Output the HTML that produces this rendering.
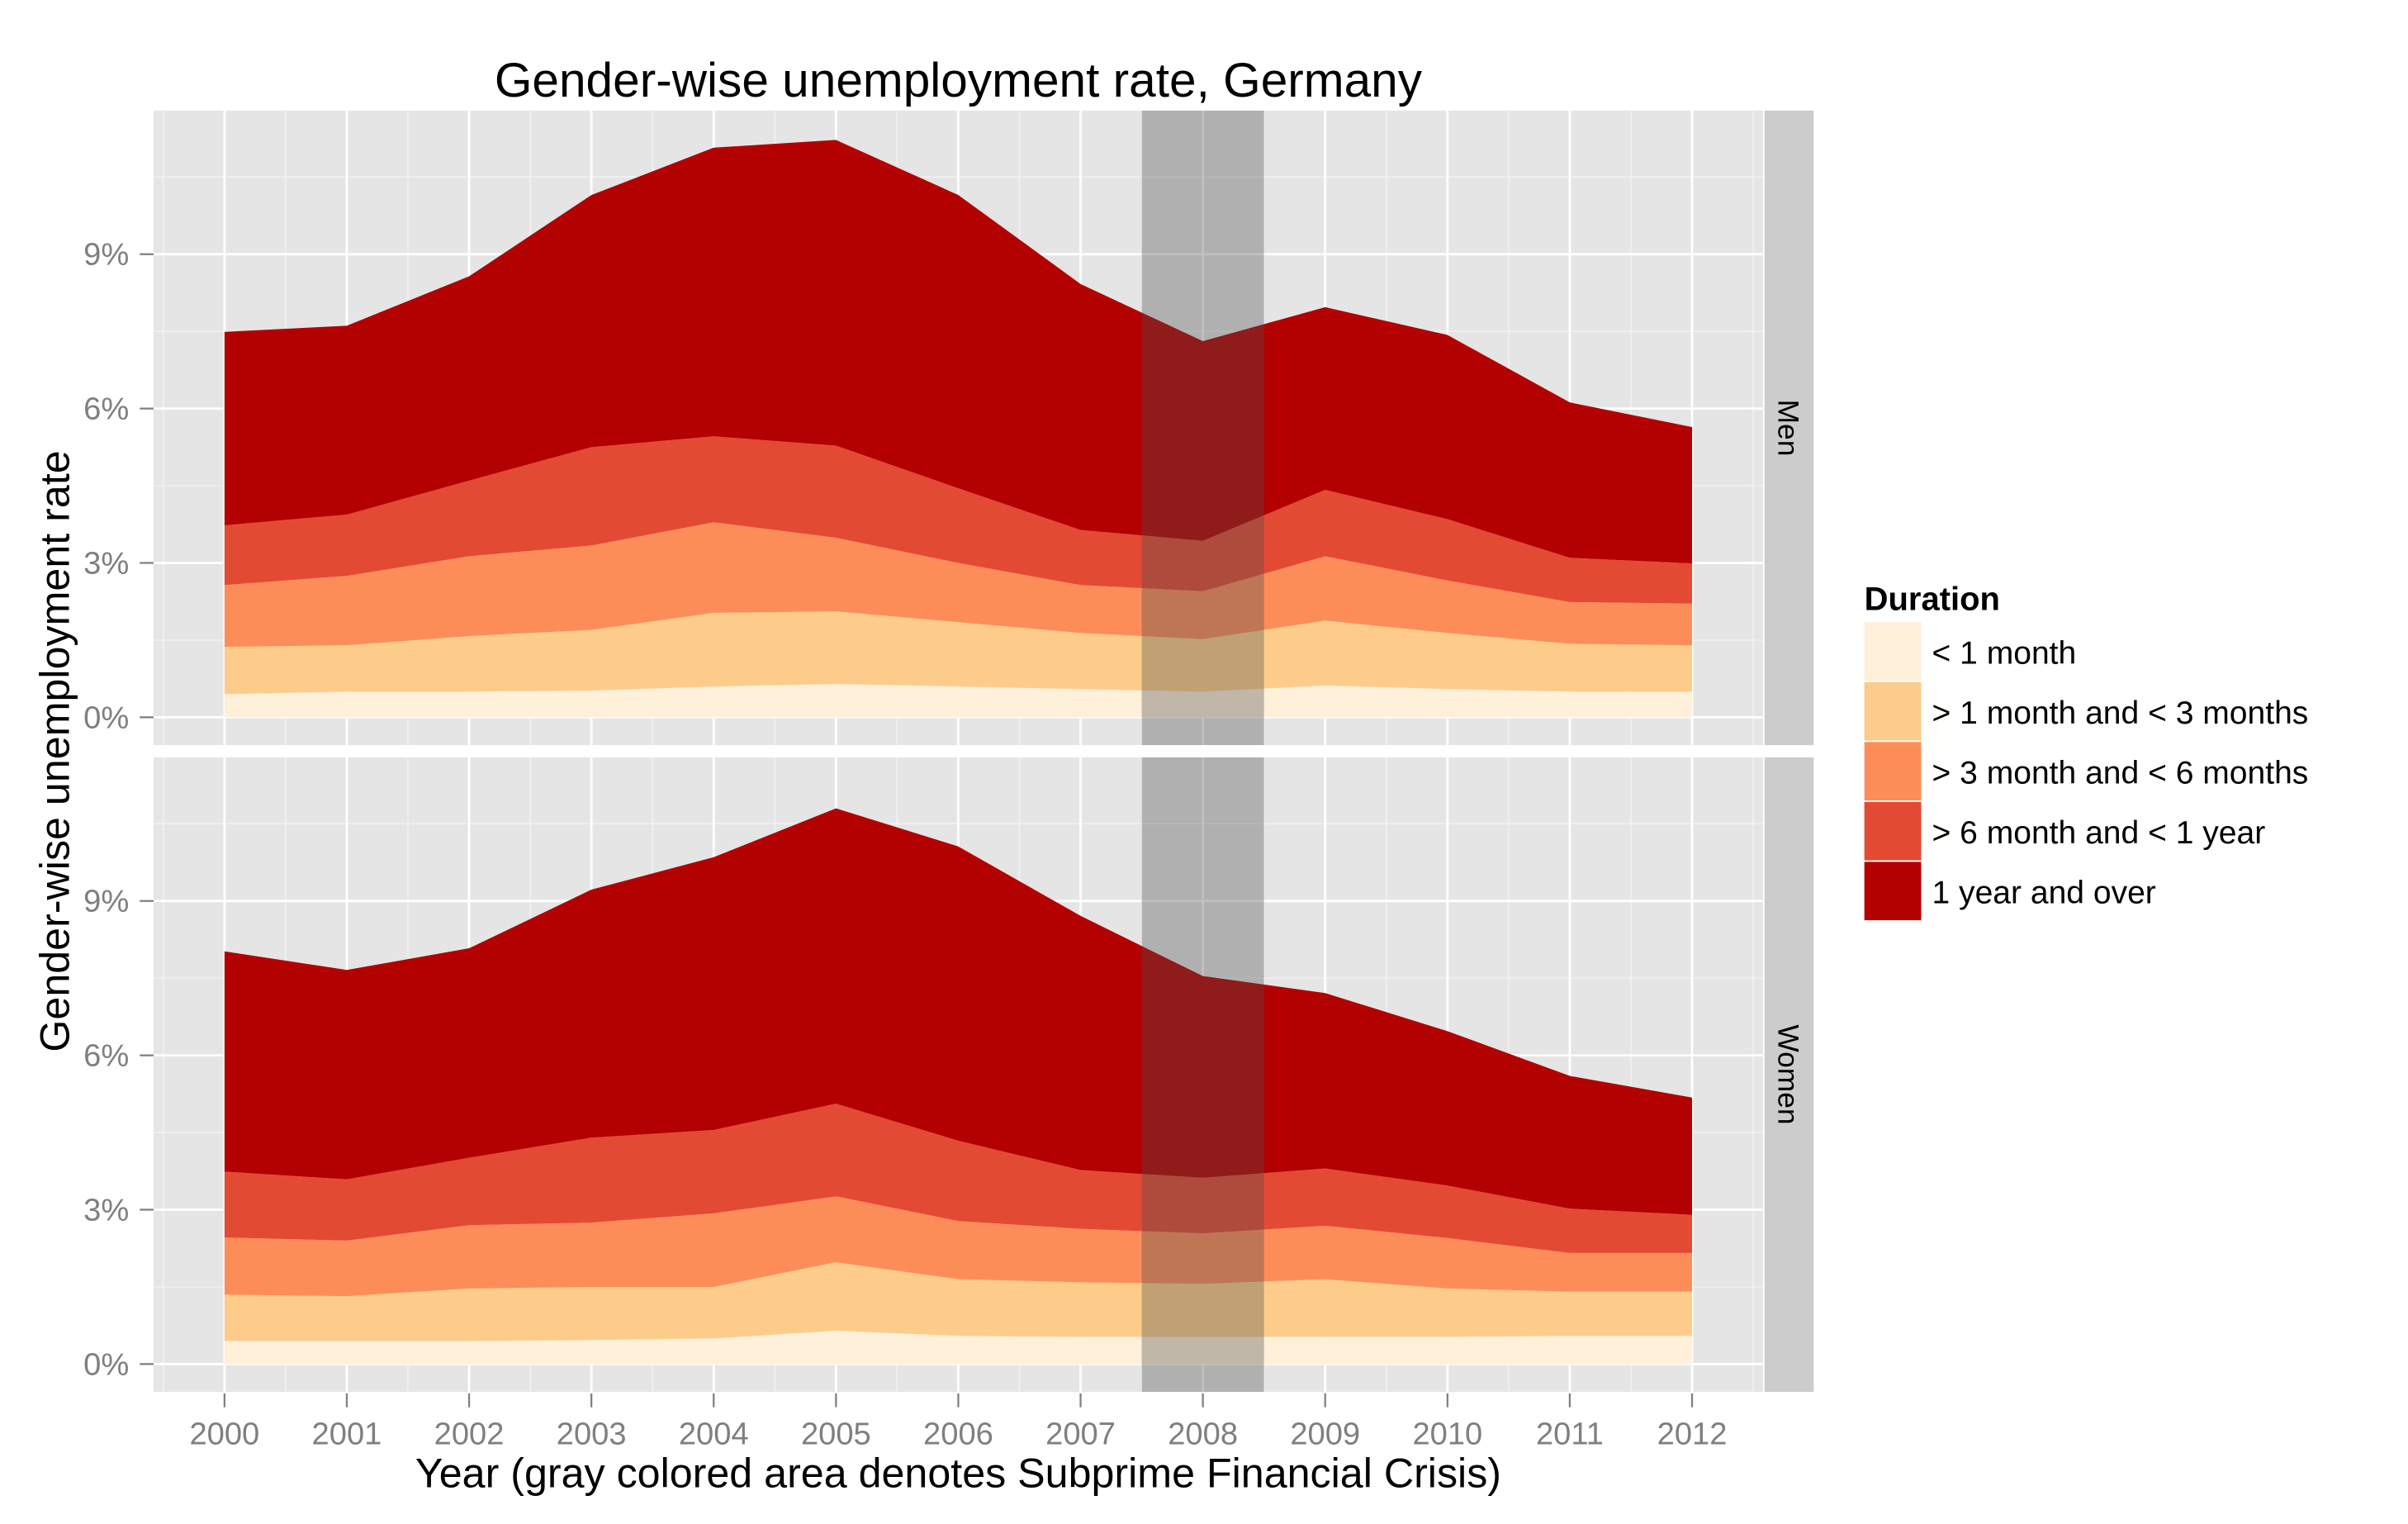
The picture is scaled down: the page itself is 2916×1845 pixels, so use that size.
<!DOCTYPE html>
<html><head><meta charset="utf-8"><style>
html,body{margin:0;padding:0;background:#fff;}
svg{display:block;font-family:"Liberation Sans",sans-serif;}
</style></head><body>
<svg id="chart" width="2916" height="1845" viewBox="0 0 1568 992" preserveAspectRatio="none" xmlns="http://www.w3.org/2000/svg">
<text x="624" y="63" font-size="31.5" text-anchor="middle" fill="#000">Gender-wise unemployment rate, Germany</text>
<text transform="translate(45,489) rotate(-90)" font-size="27" text-anchor="middle" fill="#000">Gender-wise unemployment rate</text>
<text x="624" y="968" font-size="27" text-anchor="middle" fill="#000">Year (gray colored area denotes Subprime Financial Crisis)</text>
<g id="panels"></g>
<g id="legend"></g>
</svg>
<script>
const years = [2000,2001,2002,2003,2004,2005,2006,2007,2008,2009,2010,2011,2012];
const yTicks = [0,3,6,9];
const tickLabels = ["0%","3%","6%","9%"];
const seriesNames = ["< 1 month","> 1 month and < 3 months","> 3 month and < 6 months","> 6 month and < 1 year","1 year and over"];
const colors = ["#FEF0D9","#FDCC8A","#FC8D59","#E34A33","#B30000"];
const menLt1 = [0.45,0.5,0.5,0.52,0.6,0.65,0.6,0.55,0.5,0.62,0.55,0.5,0.5];
const men1to3 = [0.92,0.9,1.08,1.18,1.43,1.41,1.25,1.09,1.02,1.26,1.09,0.93,0.9];
const men3to6 = [1.2,1.35,1.55,1.64,1.76,1.43,1.15,0.93,0.93,1.25,1.02,0.81,0.81];
const men6to12 = [1.16,1.19,1.47,1.91,1.67,1.79,1.45,1.07,0.98,1.29,1.19,0.86,0.78];
const menOver1y = [3.76,3.67,3.97,4.9,5.61,5.94,5.7,4.78,3.88,3.55,3.58,3.02,2.65];
const womenLt1 = [0.45,0.45,0.45,0.47,0.5,0.65,0.55,0.53,0.53,0.53,0.53,0.55,0.55];
const women1to3 = [0.9,0.87,1.02,1.03,1.0,1.33,1.1,1.06,1.03,1.12,0.94,0.86,0.86];
const women3to6 = [1.11,1.08,1.23,1.25,1.43,1.28,1.13,1.04,0.98,1.04,0.98,0.75,0.75];
const women6to12 = [1.28,1.19,1.31,1.65,1.62,1.8,1.56,1.14,1.08,1.11,1.02,0.86,0.74];
const womenOver1y = [4.28,4.07,4.07,4.82,5.3,5.74,5.72,4.94,3.92,3.41,3.0,2.58,2.28];
const crisis = [2007.5,2008.5];

const NS="http://www.w3.org/2000/svg";
const svg=document.getElementById('chart');
const panelsG=document.getElementById('panels');
function mk(tag,attrs,parent){const e=document.createElementNS(NS,tag);for(const k in attrs)e.setAttribute(k,attrs[k]);(parent||svg).appendChild(e);return e;}
const PL=100, PR=1148;
const xMin=1999.42, xMax=2012.58;
const xs=v=>PL+(v-xMin)/(xMax-xMin)*(PR-PL);
const yMinV=-0.54, yMaxV=11.79;
const panels=[{name:"Men",top:72,bot:485,data:[menLt1,men1to3,men3to6,men6to12,menOver1y]},
              {name:"Women",top:493,bot:906,data:[womenLt1,women1to3,women3to6,women6to12,womenOver1y]}];
panels.forEach((p,pi)=>{
  const ys=v=>p.bot-(v-yMinV)/(yMaxV-yMinV)*(p.bot-p.top);
  const g=mk('g',{},panelsG);
  
  
  mk('rect',{x:PL,y:p.top,width:PR-PL,height:p.bot-p.top,fill:'#E5E5E5'},g);
  for(let i=0;i<years.length+1;i++){const xv=years[0]-0.5+i;if(xv<xMin||xv>xMax)continue;mk('line',{x1:xs(xv),x2:xs(xv),y1:p.top,y2:p.bot,stroke:'#F2F2F2','stroke-width':0.8},g);}
  [1.5,4.5,7.5,10.5].forEach(v=>mk('line',{x1:PL,x2:PR,y1:ys(v),y2:ys(v),stroke:'#F2F2F2','stroke-width':0.8},g));
  years.forEach(yr=>mk('line',{x1:xs(yr),x2:xs(yr),y1:p.top,y2:p.bot,stroke:'#fff','stroke-width':1.5},g));
  yTicks.forEach((v,i)=>{
    mk('line',{x1:PL,x2:PR,y1:ys(v),y2:ys(v),stroke:'#fff','stroke-width':1.5},g);
    mk('line',{x1:PL-9,x2:PL,y1:ys(v),y2:ys(v),stroke:'#7f7f7f','stroke-width':1.2},g);
    const t=mk('text',{x:PL-16,y:ys(v)+7,'font-size':20.5,'text-anchor':'end',fill:'#7f7f7f'},g);
    
    
    t.textContent=tickLabels[i];
  });
  const cum=years.map(()=>0);
  p.data.forEach((ser,si)=>{
    const lower=cum.slice();
    ser.forEach((v,i)=>cum[i]+=v);
    let d='M'+years.map((yr,i)=>xs(yr)+','+ys(cum[i])).join('L');
    for(let i=years.length-1;i>=0;i--)d+='L'+xs(years[i])+','+ys(lower[i]);
    const a=mk('path',{d:d+'Z',fill:colors[si]},g);
    
    
  });
  const band=mk('rect',{x:xs(crisis[0]),y:p.top,width:xs(crisis[1])-xs(crisis[0]),height:p.bot-p.top,fill:'#4d4d4d','fill-opacity':0.35},g);
  
  
  const strip=mk('rect',{x:1149,y:p.top,width:32,height:p.bot-p.top,fill:'#CCCCCC'},g);
  
  
  const cy=(p.top+p.bot)/2;
  const st=mk('text',{transform:'translate(1158,'+cy+') rotate(90)','font-size':19,'text-anchor':'middle',fill:'#000'},g);
  
  
  st.textContent=p.name;
});
years.forEach(yr=>{
  mk('line',{x1:xs(yr),x2:xs(yr),y1:907,y2:916,stroke:'#7f7f7f','stroke-width':1.2});
  const t=mk('text',{x:xs(yr),y:940,'font-size':20.5,'text-anchor':'middle',fill:'#7f7f7f'});
  
  
  t.textContent=yr;
});
const lg=document.getElementById('legend');
const lt=mk('text',{x:1214,y:397,'font-size':21.5,'font-weight':'bold',fill:'#000'},lg);


lt.textContent='Duration';
seriesNames.forEach((n,i)=>{
  const y=405+i*39;
  const r=mk('rect',{x:1214,y:y,width:37,height:38,fill:colors[i]},lg);
  
  
  const t=mk('text',{x:1258,y:y+27,'font-size':21,fill:'#000'},lg);
  
  
  t.textContent=n;
});
</script>
</body></html>
